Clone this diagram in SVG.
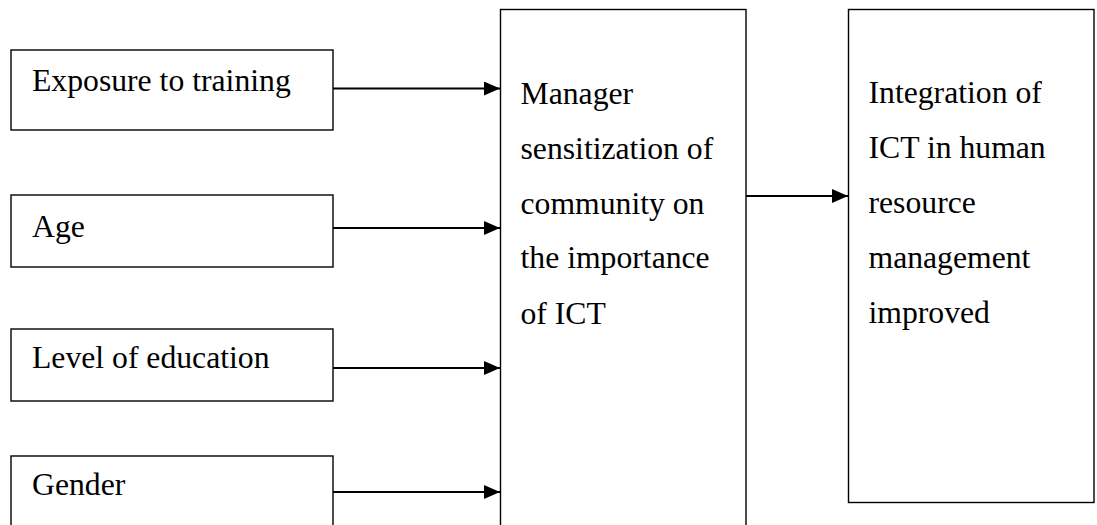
<svg xmlns="http://www.w3.org/2000/svg" width="1097" height="525" viewBox="0 0 1097 525">
  <defs>
    <style>
      .box { fill: #ffffff; stroke: #000000; stroke-width: 1.4; }
      .label { font-family: "Liberation Serif", "Times New Roman", serif; font-size: 31.7px; fill: #000000; }
      .link { stroke: #000000; stroke-width: 1.8; fill: none; }
    </style>
    <marker id="arrowhead" viewBox="0 0 16 14" refX="16" refY="7" markerWidth="16" markerHeight="14" markerUnits="userSpaceOnUse" orient="auto">
      <path d="M0,0 L16,7 L0,14 Z" fill="#000000"/>
    </marker>
  </defs>

  <rect width="1097" height="525" fill="#ffffff"/>

  <!-- Input factors -->
  <g id="node-exposure">
    <rect class="box" x="11" y="50" width="322" height="80"/>
    <text class="label" x="32" y="90.5">Exposure to training</text>
  </g>
  <g id="node-age">
    <rect class="box" x="11" y="195" width="322" height="72"/>
    <text class="label" x="32" y="237">Age</text>
  </g>
  <g id="node-education">
    <rect class="box" x="11" y="329" width="322" height="72"/>
    <text class="label" x="32" y="368">Level of education</text>
  </g>
  <g id="node-gender">
    <rect class="box" x="11" y="456" width="322" height="80"/>
    <text class="label" x="32" y="495">Gender</text>
  </g>

  <!-- Intervening process -->
  <g id="node-sensitization">
    <rect class="box" x="500.5" y="9.5" width="245.5" height="530"/>
    <text class="label">
      <tspan x="520.5" y="104">Manager</tspan>
      <tspan x="520.5" y="159">sensitization of</tspan>
      <tspan x="520.5" y="213.5">community on</tspan>
      <tspan x="520.5" y="268">the importance</tspan>
      <tspan x="520.5" y="324">of ICT</tspan>
    </text>
  </g>

  <!-- Outcome -->
  <g id="node-integration">
    <rect class="box" x="848.5" y="9.5" width="245.5" height="493"/>
    <text class="label">
      <tspan x="868.5" y="103">Integration of</tspan>
      <tspan x="868.5" y="158">ICT in human</tspan>
      <tspan x="868.5" y="213">resource</tspan>
      <tspan x="868.5" y="268">management</tspan>
      <tspan x="868.5" y="323">improved</tspan>
    </text>
  </g>

  <!-- Connectors -->
  <g id="connectors">
    <line class="link" x1="333" y1="88.5" x2="500" y2="88.5" marker-end="url(#arrowhead)"/>
    <line class="link" x1="333" y1="228" x2="500" y2="228" marker-end="url(#arrowhead)"/>
    <line class="link" x1="333" y1="368" x2="500" y2="368" marker-end="url(#arrowhead)"/>
    <line class="link" x1="333" y1="492" x2="500" y2="492" marker-end="url(#arrowhead)"/>
    <line class="link" x1="746" y1="196" x2="848" y2="196" marker-end="url(#arrowhead)"/>
  </g>
</svg>
